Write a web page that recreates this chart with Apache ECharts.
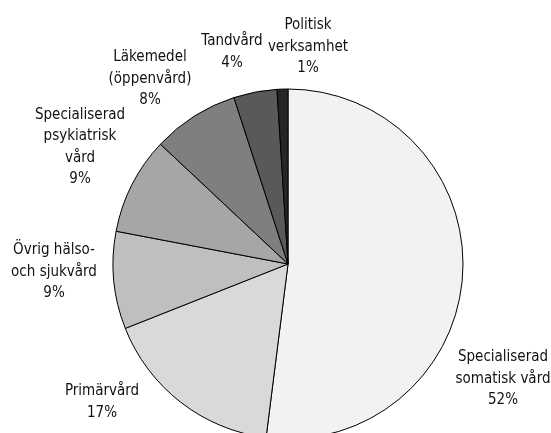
<!DOCTYPE html>
<html>
<head>
<meta charset="utf-8">
<script src="https://cdn.jsdelivr.net/npm/echarts@6/dist/echarts.min.js"></script>
<style>
  html, body { margin: 0; padding: 0; background: #ffffff; }
  #chart { width: 551px; height: 433px; }
</style>
</head>
<body>
<div id="chart"></div>
<script>
// Healthcare cost shares, clockwise from 12 o'clock
const categories = [
  'Specialiserad\nsomatisk vård',
  'Primärvård',
  'Övrig hälso-\noch sjukvård',
  'Specialiserad\npsykiatrisk\nvård',
  'Läkemedel\n(öppenvård)',
  'Tandvård',
  'Politisk\nverksamhet'
];
const shares = [52, 17, 9, 9, 8, 4, 1];
const sliceColors = ['#f2f2f2', '#d9d9d9', '#bfbfbf', '#a6a6a6', '#7f7f7f', '#595959', '#262626'];

// Label anchor points (centre of each text block), in pixels
const labelAnchors = [
  [503, 379],
  [102, 402],
  [54, 272],
  [80, 147],
  [150, 79],
  [232, 52],
  [308, 47]
];

const chart = echarts.init(document.getElementById('chart'), null, { renderer: 'canvas' });

chart.setOption({
  animation: false,
  backgroundColor: '#ffffff',
  series: [{
    type: 'pie',
    center: [288, 264],
    radius: 175,
    startAngle: 90,
    clockwise: true,
    avoidLabelOverlap: false,
    silent: true,
    itemStyle: { borderColor: '#000000', borderWidth: 1 },
    label: {
      show: true,
      position: 'outside',
      formatter: p => p.name + '\n' + p.value + '%',
      fontFamily: '"Liberation Sans Narrow", "DejaVu Sans Condensed", sans-serif',
      fontSize: 15,
      lineHeight: 21.5,
      color: '#111111',
      align: 'center'
    },
    labelLine: { show: false },
    labelLayout: params => {
      const a = labelAnchors[params.dataIndex];
      return { x: a[0], y: a[1], align: 'center', verticalAlign: 'middle' };
    },
    data: categories.map((name, i) => ({
      name: name,
      value: shares[i],
      itemStyle: { color: sliceColors[i] }
    }))
  }]
});
</script>
</body>
</html>
